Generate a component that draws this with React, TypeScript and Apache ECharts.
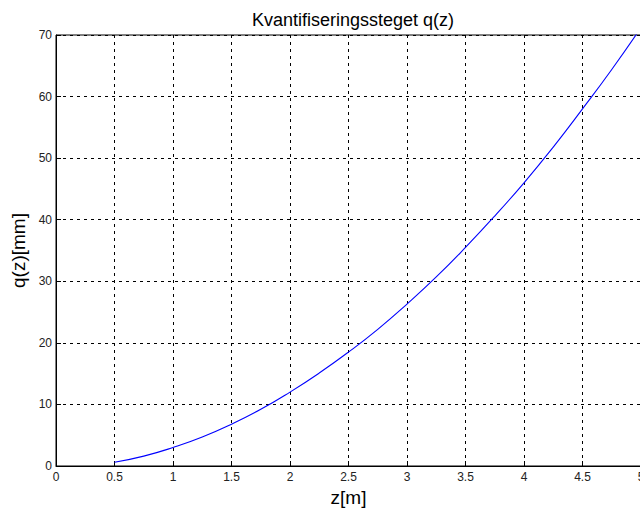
import React, { useEffect, useRef } from "react";
import * as echarts from "echarts";

const zValues = [0.5, 0.75, 1.0, 1.25, 1.5, 1.75, 2.0, 2.25, 2.5, 2.75, 3.0, 3.25, 3.5, 3.75, 4.0, 4.25, 4.5, 4.75, 5.0];
const qValues = [0.6, 1.6, 3.0, 4.7, 6.8, 9.2, 12.0, 15.1, 18.5, 22.2, 26.3, 30.7, 35.5, 40.6, 46.0, 51.8, 58.0, 64.4, 71.2];

const FONT = "'Liberation Sans', Arial, sans-serif";

export default function App() {
  const ref = useRef<HTMLDivElement>(null);
  useEffect(() => {
    if (!ref.current) return;
    const chart = echarts.init(ref.current, undefined, { renderer: "svg" });
    chart.setOption({
      animation: false,
      backgroundColor: "#fff",
      title: {
        text: "Kvantifiseringssteget q(z)",
        left: 348,
        top: 6,
        textAlign: "center",
        textStyle: { fontFamily: FONT, fontSize: 18, fontWeight: "normal", color: "#000" },
      },
      grid: {
        left: 56,
        top: 35,
        right: -1,
        bottom: 42,
        outerBoundsMode: "none",
        containLabel: false,
        show: true,
        borderColor: "#000",
        borderWidth: 1,
        backgroundColor: "transparent",
      },
      xAxis: {
        type: "value",
        min: 0,
        max: 5,
        interval: 0.5,
        name: "z[m]",
        nameLocation: "middle",
        nameGap: 22,
        nameTextStyle: { fontFamily: FONT, fontSize: 19, color: "#000" },
        axisLine: { show: true, lineStyle: { color: "#000", width: 1 } },
        axisTick: { show: true, inside: true, length: 5, lineStyle: { color: "#000" } },
        axisLabel: { fontFamily: FONT, fontSize: 12, color: "#222", margin: 5 },
        splitLine: { show: true, lineStyle: { color: "#000", type: [3, 4], width: 1 } },
      },
      yAxis: {
        type: "value",
        min: 0,
        max: 70,
        interval: 10,
        name: "q(z)[mm]",
        nameLocation: "middle",
        nameGap: 21,
        nameRotate: 90,
        nameTextStyle: { fontFamily: FONT, fontSize: 19, color: "#000" },
        axisLine: { show: true, lineStyle: { color: "#000", width: 1 } },
        axisTick: { show: true, inside: true, length: 5, lineStyle: { color: "#000" } },
        axisLabel: { fontFamily: FONT, fontSize: 12, color: "#222", margin: 4 },
        splitLine: { show: true, lineStyle: { color: "#000", type: [3, 4], width: 1 } },
      },
      series: [
        {
          type: "line",
          data: zValues.map((z, i) => [z, qValues[i]]),
          smooth: true,
          showSymbol: false,
          clip: true,
          lineStyle: { color: "#0000ff", width: 1.1 },
        },
      ],
    });
    return () => chart.dispose();
  }, []);
  return (
    <div
      ref={ref}
      style={{ position: "absolute", left: 0, top: 0, width: 640, height: 508 }}
    />
  );
}
